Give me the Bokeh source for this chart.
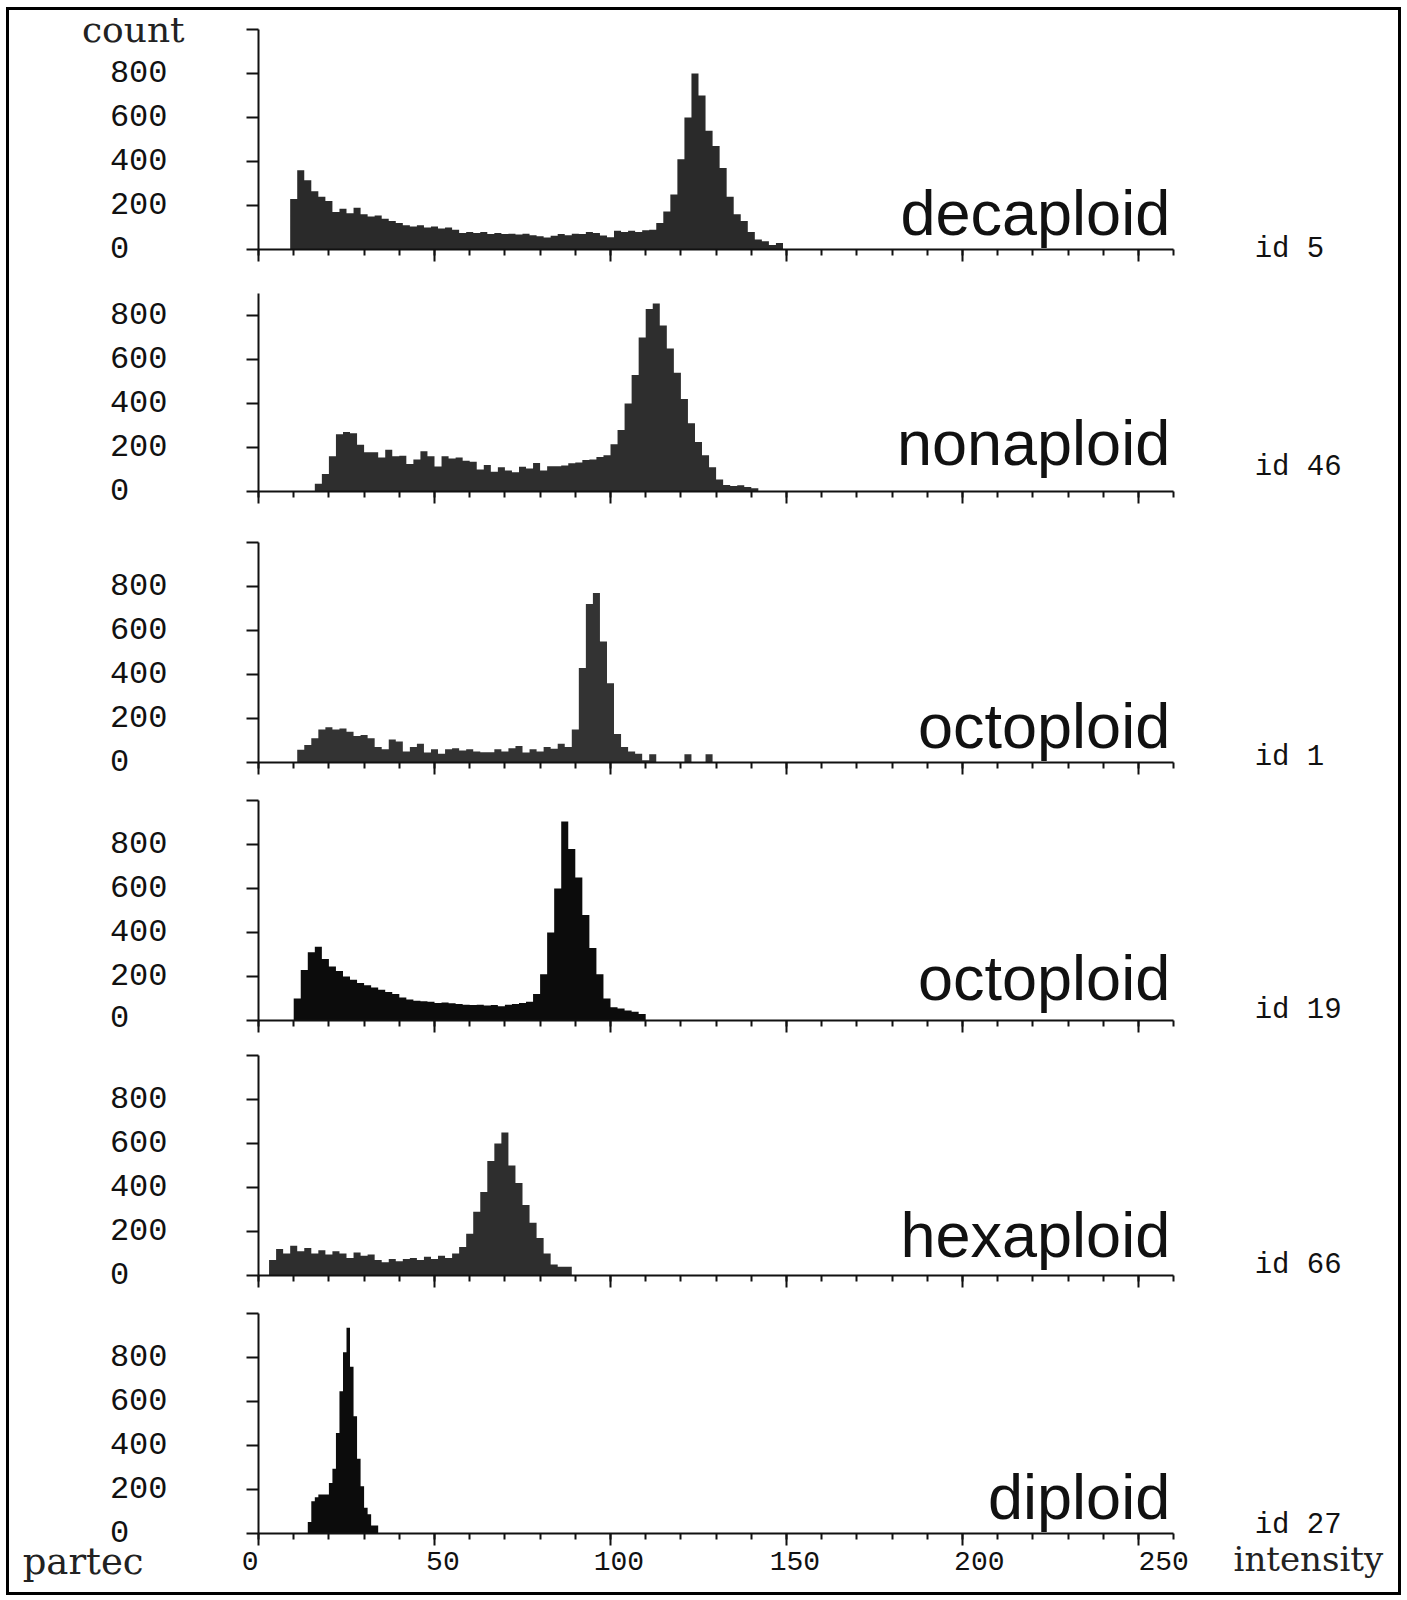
from bokeh.plotting import figure
from bokeh.layouts import column
from bokeh.models import Range1d, FixedTicker, Label, ColumnDataSource
from bokeh.embed import file_html
from bokeh.resources import INLINE

# ---------------- data ----------------
INTENSITY_MAJOR = [0, 50, 100, 150, 200, 250]
INTENSITY_MINOR = list(range(0, 261, 10))
INTENSITY_LABELS = {0: "0\u00a0", 50: "\u00a050", 100: "\u00a0100",
                    150: "\u00a0150", 200: "\u00a0\u00a0200", 250: "\u00a0\u00a0\u00a0250"}
COUNT_TICKS_FULL = [0, 200, 400, 600, 800, 1000]
COUNT_TICKS_SHORT = [0, 200, 400, 600, 800]

ploidy = ["decaploid", "nonaploid", "octoploid", "octoploid", "hexaploid", "diploid"]
sample_ids = ["id 5", "id 46", "id 1", "id 19", "id 66", "id 27"]
count_max = [1000, 900, 1000, 1000, 1000, 1000]
bin_start = [9, 16, 11, 10, 3, 14]
bin_width = [2, 2, 2, 2, 2, 1]

decaploid_counts = [230, 360, 315, 265, 240, 220, 170, 185, 165, 190,
                    160, 150, 155, 140, 130, 120, 110, 105, 110, 100,
                    105, 95, 100, 90, 75, 80, 75, 80, 70, 75,
                    70, 72, 68, 72, 65, 60, 55, 62, 70, 65,
                    72, 70, 80, 75, 64, 56, 85, 80, 85, 80,
                    87, 90, 120, 173, 250, 410, 600, 800, 700, 540,
                    470, 370, 240, 160, 130, 80, 45, 38, 20, 30]
nonaploid_counts = [35, 80, 160, 260, 270, 265, 212, 178, 178, 155,
                    190, 160, 162, 125, 145, 183, 160, 114, 160, 150,
                    155, 140, 135, 100, 120, 90, 110, 95, 88, 112,
                    105, 130, 95, 115, 115, 118, 128, 132, 143, 146,
                    157, 165, 215, 280, 400, 530, 700, 830, 855, 755,
                    650, 540, 420, 310, 225, 165, 110, 55, 30, 25,
                    28, 20, 15]
octoploid1_counts = [58, 80, 110, 150, 160, 150, 155, 140, 120, 125,
                     110, 70, 60, 105, 95, 50, 70, 85, 45, 60,
                     40, 60, 65, 55, 60, 50, 47, 47, 60, 50,
                     65, 75, 45, 60, 50, 70, 62, 85, 70, 150,
                     430, 720, 770, 550, 360, 130, 70, 50, 40, 10,
                     38, 0, 0, 0, 0, 38, 0, 0, 38]
octoploid19_counts = [100, 230, 310, 335, 280, 245, 225, 200, 185, 170,
                      160, 150, 140, 130, 120, 105, 95, 90, 88, 85,
                      80, 82, 78, 75, 72, 70, 72, 68, 70, 65,
                      72, 75, 80, 85, 120, 210, 400, 600, 905, 780,
                      650, 480, 330, 210, 100, 60, 55, 45, 40, 30]
hexaploid_counts = [70, 120, 100, 135, 110, 125, 100, 115, 95, 110,
                    100, 80, 105, 90, 95, 70, 60, 75, 65, 75,
                    80, 70, 85, 75, 90, 80, 100, 130, 190, 290,
                    380, 520, 600, 650, 500, 420, 320, 240, 170, 100,
                    50, 40, 40]
diploid_counts = [52, 147, 165, 177, 177, 177, 230, 294, 457, 647,
                  824, 935, 758, 533, 340, 215, 117, 87, 36, 36]

counts = [decaploid_counts, nonaploid_counts, octoploid1_counts,
          octoploid19_counts, hexaploid_counts, diploid_counts]
fill_colors = ["#2a2a2a", "#2e2e2e", "#333333", "#0c0c0c", "#2e2e2e", "#0c0c0c"]

# ---------------- layout (pixels) ----------------
PX_PER_UNIT = 3.52      # horizontal pixels per intensity unit
PX_PER_COUNT = 0.22     # vertical pixels per count
FIG_W = 1389
X0_PX = 249             # position of intensity 0 inside each figure
fig_top = [10, 270, 520, 780, 1036, 1294]
fig_h = [260, 250, 260, 256, 258, 298]
baseline_px = [249, 491, 762, 1020, 1275, 1533]

label_base = [168, 220, 164, 194, 186, 167]
id_y = [0, 110, 23, 45, 45, 36]

MONO = "Liberation Mono"
figs = []
for k in range(6):
    ymax = count_max[k]
    above = (baseline_px[k] - fig_top[k]) / PX_PER_COUNT
    below = (fig_top[k] + fig_h[k] - baseline_px[k]) / PX_PER_COUNT
    p = figure(frame_width=FIG_W, frame_height=fig_h[k],
               x_range=Range1d(-X0_PX / PX_PER_UNIT, (FIG_W - X0_PX) / PX_PER_UNIT),
               y_range=Range1d(-below, above),
               min_border=0, output_backend="svg", toolbar_location=None, tools="")
    p.grid.visible = False
    p.outline_line_color = None
    p.background_fill_color = "white"
    p.border_fill_color = "white"

    edges = [bin_start[k] + i * bin_width[k] for i in range(len(counts[k]) + 1)]
    src = ColumnDataSource(dict(x=edges, top=counts[k] + [0], bottom=[0] * len(edges)))
    p.varea_step(x="x", y1="bottom", y2="top", step_mode="after", source=src,
                 fill_color=fill_colors[k])

    # x axis drawn at count 0
    xa = p.xaxis[0]
    xa.fixed_location = 0
    xa.ticker = FixedTicker(ticks=INTENSITY_MAJOR, minor_ticks=INTENSITY_MINOR)
    xa.bounds = (0, 260)
    xa.axis_line_width = 2
    xa.axis_line_color = "#111111"
    xa.major_tick_line_width = 2
    xa.major_tick_line_color = "#111111"
    xa.minor_tick_line_width = 2
    xa.minor_tick_line_color = "#111111"
    xa.major_tick_out = 12
    xa.major_tick_in = 0
    xa.minor_tick_out = 6
    xa.minor_tick_in = 0
    if k == 5:
        xa.major_label_overrides = INTENSITY_LABELS
        xa.major_label_text_font = MONO
        xa.major_label_text_font_size = "28px"
        xa.major_label_text_color = "#111111"
        xa.major_label_standoff = 1
    else:
        xa.major_label_overrides = {t: "" for t in INTENSITY_MAJOR}
        xa.major_label_text_font_size = "0px"
        xa.major_label_standoff = 0

    # y axis drawn at intensity 0
    ya = p.yaxis[0]
    ya.fixed_location = 0
    ya.ticker = FixedTicker(ticks=COUNT_TICKS_SHORT if ymax < 1000 else COUNT_TICKS_FULL,
                            minor_ticks=[])
    ya.bounds = (0, ymax)
    ya.axis_line_width = 2
    ya.axis_line_color = "#111111"
    ya.major_tick_line_width = 2
    ya.major_tick_line_color = "#111111"
    ya.major_tick_out = 12
    ya.major_tick_in = 0
    ya.minor_tick_out = 0
    ya.minor_tick_in = 0
    ya.major_label_standoff = 79
    ya.major_label_text_font = MONO
    ya.major_label_text_font_size = "32px"
    ya.major_label_text_color = "#111111"
    ya.major_label_overrides = {0: "0\u00a0\u00a0", 1000: ""}

    p.add_layout(Label(x=259, y=label_base[k], text=ploidy[k],
                       text_font="Liberation Sans", text_font_size="63px",
                       text_align="right", text_baseline="alphabetic",
                       text_color="#111111"))
    p.add_layout(Label(x=283, y=id_y[k], text=sample_ids[k],
                       text_font=MONO, text_font_size="29px",
                       text_align="left", text_baseline="middle",
                       text_color="#111111"))
    if k == 0:
        p.add_layout(Label(x=-21, y=1000, text="count",
                           text_font="DejaVu Serif", text_font_size="36px",
                           text_align="right", text_baseline="middle",
                           text_color="#222222"))
    if k == 5:
        p.add_layout(Label(x=-67, y=-127, text="partec",
                           text_font="DejaVu Serif", text_font_size="37px",
                           text_align="left", text_baseline="middle",
                           text_color="#222222"))
        p.add_layout(Label(x=277, y=-118, text="intensity",
                           text_font="DejaVu Serif", text_font_size="34px",
                           text_align="left", text_baseline="middle",
                           text_color="#222222"))
    figs.append(p)

layout = column(*figs, spacing=0, margin=(7, 0, 0, 6),
                styles={"border": "3px solid black"})
open("out.html", "w").write(file_html(layout, INLINE))
